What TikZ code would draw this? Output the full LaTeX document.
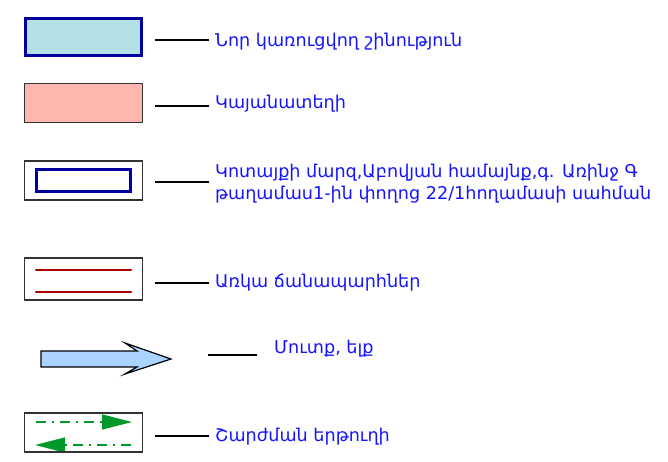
\documentclass[tikz,border=0pt]{standalone}
\usepackage{fontspec}
\setmainfont{DejaVu Sans}
\usetikzlibrary{arrows.meta}
\pgfdeclarelayer{edgelayer}
\pgfdeclarelayer{nodelayer}
\pgfsetlayers{edgelayer,nodelayer,main}
\definecolor{labelblue}{HTML}{1414FF}
\definecolor{framenavy}{HTML}{0000A0}
\definecolor{newfill}{HTML}{B4E1E6}
\definecolor{parkfill}{HTML}{FFB6AE}
\definecolor{roadred}{HTML}{AA0000}
\definecolor{entryfill}{HTML}{AAD4FF}
\definecolor{routegreen}{HTML}{00992A}
\tikzstyle{none}=[inner sep=0pt]
\tikzstyle{label}=[inner sep=0pt,anchor=west,text=labelblue,font=\fontsize{17.6}{22}\selectfont,align=left]
\tikzstyle{keybox}=[draw=black!80,line width=1.2pt,minimum width=118pt,minimum height=39pt,inner sep=0pt]
\tikzstyle{newbuild}=[keybox,fill=newfill,draw=framenavy,line width=3pt,minimum width=116pt,minimum height=37pt]
\tikzstyle{parking}=[keybox,fill=parkfill]
\tikzstyle{border}=[draw=framenavy,line width=2.2pt,minimum width=94pt,minimum height=22pt,inner sep=0pt]
\tikzstyle{leader}=[draw=black,line width=1.2pt]
\tikzstyle{road}=[draw=roadred,line width=2.5pt,line cap=round]
\tikzstyle{route}=[draw=routegreen,line width=1.4pt,dash pattern=on 10pt off 6pt on 2pt off 6pt,-{Triangle[length=30pt,width=15pt]}]

\begin{document}
\begin{tikzpicture}[x=1pt,y=-1pt]
	\useasboundingbox (0,0) rectangle (668,462);
	\begin{pgfonlayer}{nodelayer}
		\node [style=newbuild] (0) at (83.5, 37) {};
		\node [style=parking] (1) at (83.5, 103) {};
		\node [style=keybox] (2) at (83.5, 180.5) {};
		\node [style=border] (3) at (83.5, 180.5) {};
		\node [style=keybox, minimum height=42pt] (4) at (83.5, 279) {};
		\node [style=keybox] (5) at (83.5, 432.5) {};
		\node [style=label] (6) at (215, 42) {Նոր կառուցվող շինություն};
		\node [style=label] (7) at (215, 104) {Կայանատեղի};
		\node [style=label] (8) at (215, 184) {Կոտայքի մարզ,Աբովյան համայնք,գ. Առինջ Գ\\թաղամաս1-ին փողոց 22/1հողամասի սահման};
		\node [style=label] (9) at (215, 283) {Առկա ճանապարհներ};
		\node [style=label] (10) at (274, 349) {Մուտք, ելք};
		\node [style=label] (11) at (215, 437) {Շարժման երթուղի};
		\coordinate (12) at (36, 270);
		\coordinate (13) at (131, 270);
		\coordinate (14) at (36, 292);
		\coordinate (15) at (131, 292);
		\coordinate (16) at (36, 422);
		\coordinate (17) at (132, 422);
		\coordinate (18) at (131, 445);
		\coordinate (19) at (35, 445);
		\coordinate (20) at (208, 355);
	\end{pgfonlayer}
	\begin{pgfonlayer}{edgelayer}
		\draw [style=leader] (155, 40) to ([xshift=-6pt]6.west |- 155, 40);
		\draw [style=leader] (155, 106) to ([xshift=-6pt]7.west |- 155, 106);
		\draw [style=leader] (155, 182) to ([xshift=-6pt]8.west |- 155, 182);
		\draw [style=leader] (155, 283) to ([xshift=-6pt]9.west);
		\draw [style=leader] (20) to ([xshift=-17pt]10.west |- 20);
		\draw [style=leader] (155, 436) to ([xshift=-6pt]11.west |- 155, 436);
		\draw [style=road] (12) to (13);
		\draw [style=road] (14) to (15);
		\draw [style=route] (16) to (17);
		\draw [style=route] (18) to (19);
		\draw [fill=entryfill, line width=1.2pt, line join=miter] (41, 351) -- (137, 351) -- (125, 343) -- (171, 359) -- (125, 374) -- (137, 367) -- (41, 367) -- cycle;
	\end{pgfonlayer}
\end{tikzpicture}
\end{document}
